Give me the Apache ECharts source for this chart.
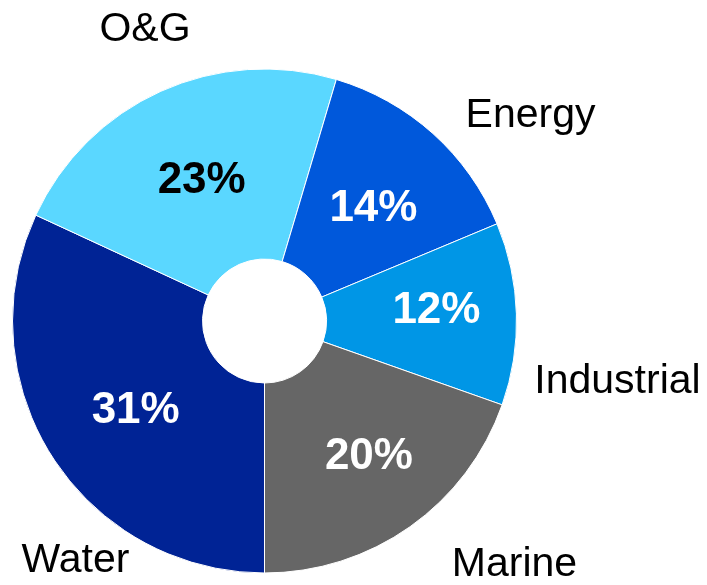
<!DOCTYPE html>
<html>
<head>
<meta charset="utf-8">
<script src="https://cdn.jsdelivr.net/npm/echarts@6/dist/echarts.min.js"></script>
<style>html,body{margin:0;padding:0;background:#fff;}#c{width:707px;height:585px;}</style>
</head>
<body>
<div id="c"></div>
<script>
// Data (clockwise from 6 o'clock)
var categories = ['Water', 'O&G', 'Energy', 'Industrial', 'Marine'];
var shares = [31.9, 22.7, 14.1, 11.7, 19.6];          // slice sizes as drawn
var pctLabels = ['31%', '23%', '14%', '12%', '20%'];  // printed labels

// Styles
var colors = ['#002395', '#5AD7FF', '#0058DB', '#0096E6', '#666666'];
var pctColors = ['#ffffff', '#000000', '#ffffff', '#ffffff', '#ffffff'];
var pctNudge = [[6, 4], [3, 6], [2, 7], [12, -6], [12, 5]];
var namePos = [[75.5, 561], [145, 29.5], [530.5, 116], [617.5, 381.5], [514.5, 564.5]];

var FONT = '"Liberation Sans", Arial, Helvetica, sans-serif';
var center = [264.5, 321];

var pieData = categories.map(function (c, i) {
  return {
    name: c, value: shares[i],
    itemStyle: { color: colors[i] },
    label: { color: pctColors[i] }
  };
});
var nameData = categories.map(function (c, i) {
  return { name: c, value: shares[i] };
});

var chart = echarts.init(document.getElementById('c'));
chart.setOption({
  animation: false,
  series: [
    {
      type: 'pie',
      center: center,
      radius: [62, 252],
      startAngle: -90,
      clockwise: true,
      avoidLabelOverlap: false,
      silent: true,
      itemStyle: { borderColor: '#ffffff', borderWidth: 1 },
      label: {
        show: true,
        position: 'inside',
        fontFamily: FONT,
        fontSize: 44,
        fontWeight: 'bold',
        formatter: function (p) { return pctLabels[p.dataIndex]; }
      },
      labelLine: { show: false },
      labelLayout: function (p) {
        var n = pctNudge[p.dataIndex];
        return { dx: n[0], dy: n[1] };
      },
      data: pieData
    },
    {
      type: 'pie',
      center: center,
      radius: [62, 252],
      startAngle: -90,
      clockwise: true,
      avoidLabelOverlap: false,
      silent: true,
      itemStyle: { color: 'rgba(0,0,0,0)' },
      label: {
        show: true,
        position: 'outside',
        fontFamily: FONT,
        fontSize: 41,
        color: '#000000',
        formatter: '{b}'
      },
      labelLine: { show: false },
      labelLayout: function (p) {
        var q = namePos[p.dataIndex];
        return { x: q[0], y: q[1], align: 'center', verticalAlign: 'middle' };
      },
      data: nameData
    }
  ]
});
</script>
</body>
</html>
